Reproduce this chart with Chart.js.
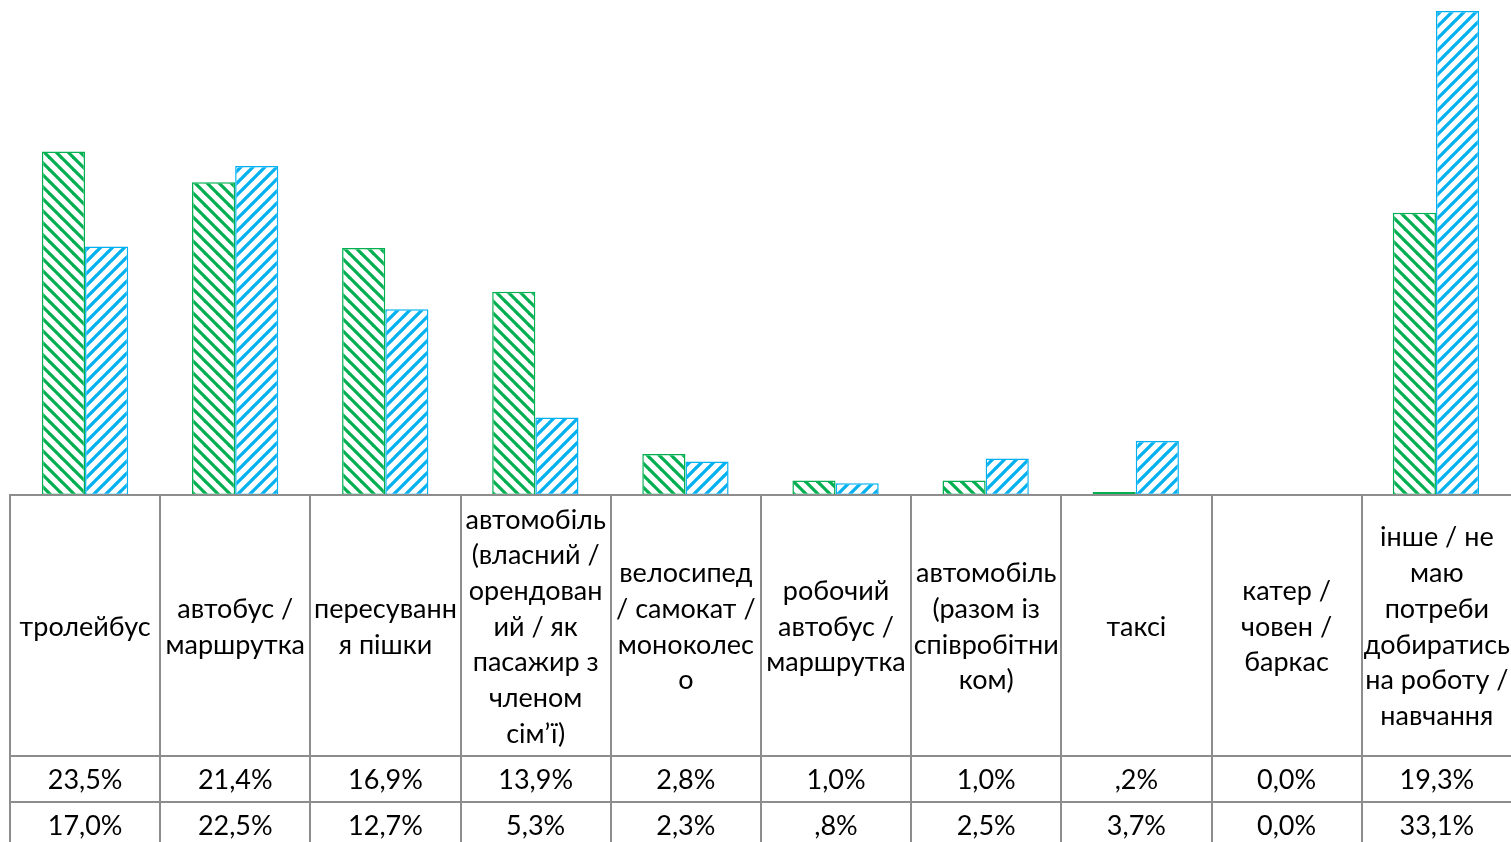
<!DOCTYPE html>
<html>
<head>
<meta charset="utf-8">
<script src="https://cdn.jsdelivr.net/npm/chart.js@4.4.1/dist/chart.umd.min.js"></script>
<style>
  html, body { margin: 0; padding: 0; background: #ffffff; width: 1511px; height: 842px; overflow: hidden; }
  #wrap { position: relative; width: 1511px; height: 842px; }
  #chartBox { position: absolute; left: 0; top: 0; width: 1511px; height: 495px; }
  #tbl { position: absolute; left: 0; top: 0; border-collapse: collapse; table-layout: fixed;
         font-family: Lato, "Open Sans", sans-serif; color: #000; }
  #tbl td { border: 2px solid #8d8d8d; text-align: center; vertical-align: middle; padding: 0; white-space: nowrap; overflow: visible; }
  #tbl tr.lab td { font-size: 27px; line-height: 35.7px; }
  #tbl tr.val td { font-size: 27px; line-height: 30px; }
</style>
</head>
<body>
<div id="wrap">
  <div id="chartBox"><canvas id="c"></canvas></div>
  <table id="tbl"></table>
</div>
<script>
// ---- data ----
const categories = [
  'тролейбус',
  'автобус / маршрутка',
  'пересування пішки',
  'автомобіль (власний / орендований / як пасажир з членом сім’ї)',
  'велосипед / самокат / моноколесо',
  'робочий автобус / маршрутка',
  'автомобіль (разом із співробітником)',
  'таксі',
  'катер / човен / баркас',
  'інше / не маю потреби добиратись на роботу / навчання'
];
const categoryLines = [
  ['тролейбус'],
  ['автобус /', 'маршрутка'],
  ['пересуванн', 'я пішки'],
  ['автомобіль', '(власний /', 'орендован', 'ий / як', 'пасажир з', 'членом', 'сім’ї)'],
  ['велосипед', '/ самокат /', 'моноколес', 'о'],
  ['робочий', 'автобус /', 'маршрутка'],
  ['автомобіль', '(разом із', 'співробітни', 'ком)'],
  ['таксі'],
  ['катер /', 'човен /', 'баркас'],
  ['інше / не', 'маю', 'потреби', 'добиратись', 'на роботу /', 'навчання']
];
const seriesGreen = [23.5, 21.4, 16.9, 13.9, 2.8, 1.0, 1.0, 0.2, 0.0, 19.3];
const seriesBlue  = [17.0, 22.5, 12.7, 5.3, 2.3, 0.8, 2.5, 3.7, 0.0, 33.1];
const labelsGreen = ['23,5%', '21,4%', '16,9%', '13,9%', '2,8%', '1,0%', '1,0%', ',2%', '0,0%', '19,3%'];
const labelsBlue  = ['17,0%', '22,5%', '12,7%', '5,3%', '2,3%', ',8%', '2,5%', '3,7%', '0,0%', '33,1%'];
const yMax = 33.86;

// ---- hatch patterns ----
function hatch(color, dir) {
  const s = 12;
  const cv = document.createElement('canvas');
  cv.width = s; cv.height = s;
  const g = cv.getContext('2d');
  g.fillStyle = '#ffffff';
  g.fillRect(0, 0, s, s);
  g.strokeStyle = color;
  g.lineWidth = 3.2;
  g.lineCap = 'square';
  for (const o of [-s, 0, s]) {
    g.beginPath();
    if (dir === 'down') { g.moveTo(o, 0); g.lineTo(o + s, s); }
    else { g.moveTo(o, s); g.lineTo(o + s, 0); }
    g.stroke();
  }
  return g.createPattern(cv, 'repeat');
}
const ctx = document.getElementById('c').getContext('2d');
const greenPat = hatch('#00B050', 'down');
const bluePat = hatch('#00B0F0', 'up');

const chart = new Chart(ctx, {
  type: 'bar',
  data: {
    labels: categories,
    datasets: [
      { label: 'A', data: seriesGreen, backgroundColor: greenPat, borderColor: '#00B050', borderWidth: 1.5, borderSkipped: false },
      { label: 'B', data: seriesBlue, backgroundColor: bluePat, borderColor: '#00B0F0', borderWidth: 1.5, borderSkipped: false }
    ]
  },
  options: {
    responsive: true,
    maintainAspectRatio: false,
    animation: false,
    datasets: { bar: { categoryPercentage: 0.575, barPercentage: 1.0 } },
    layout: { padding: { left: 10, right: 0, top: 0, bottom: 0 } },
    plugins: { legend: { display: false }, tooltip: { enabled: false } },
    scales: {
      x: { display: false, grid: { display: false } },
      y: { display: false, min: 0, max: yMax, grid: { display: false } }
    }
  }
});

// ---- data table ----
(function buildTable() {
  const tbl = document.getElementById('tbl');
  const area = chart.chartArea;
  const left = area.left - 1, right = area.right;
  const colW = (right - left) / categories.length;
  tbl.style.left = left + 'px';
  tbl.style.top = (area.bottom - 1) + 'px';
  tbl.style.width = (right - left + 2) + 'px';
  const cg = document.createElement('colgroup');
  categories.forEach(() => { const c = document.createElement('col'); c.style.width = colW + 'px'; cg.appendChild(c); });
  tbl.appendChild(cg);
  const r1 = document.createElement('tr'); r1.className = 'lab'; r1.style.height = '261px';
  categoryLines.forEach(lines => {
    const td = document.createElement('td');
    lines.forEach((l, i) => { if (i) td.appendChild(document.createElement('br')); td.appendChild(document.createTextNode(l)); });
    r1.appendChild(td);
  });
  tbl.appendChild(r1);
  [labelsGreen, labelsBlue].forEach(arr => {
    const tr = document.createElement('tr'); tr.className = 'val'; tr.style.height = '46px';
    arr.forEach(t => { const td = document.createElement('td'); td.textContent = t; tr.appendChild(td); });
    tbl.appendChild(tr);
  });
})();
</script>
</body>
</html>
